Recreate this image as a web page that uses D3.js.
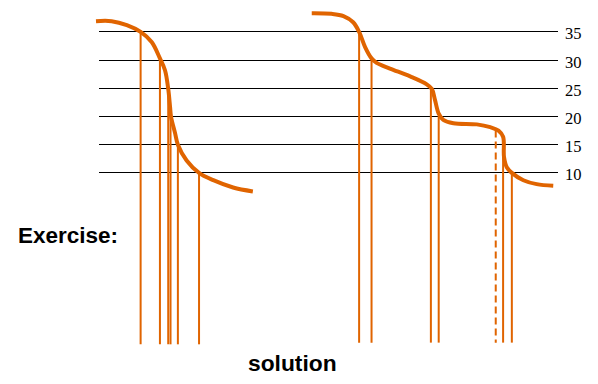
<!DOCTYPE html>
<html><head><meta charset="utf-8">
<script src="https://cdn.jsdelivr.net/npm/d3@7"></script>
<style>html,body{margin:0;padding:0;background:#fff;}svg{display:block;}</style>
</head><body>
<script>
// ---- data ----
const tickLevels = [35, 30, 25, 20, 15, 10];
const tickLabels = ["35", "30", "25", "20", "15", "10"];

const curve1X = [0, 3.4, 6.7, 9.7, 12.1, 13.9, 15.0, 15.7, 16.1, 16.3, 17.2, 17.8, 19.7, 22.4, 25.5, 29.8, 34.1];
const curve1Y = [36.8, 36.8, 36.1, 34.9, 33.1, 30.2, 28.1, 24.8, 21.6, 19.9, 16.9, 14.9, 12.1, 9.9, 8.6, 7.3, 6.6];

const curve2X = [46.9, 51.2, 53.8, 55.9, 57.2, 58.5, 59.9, 61.0, 63.9, 68.3, 71.9, 73.0, 73.7, 74.5, 75.5, 77.7, 82.8, 85.7, 87.5, 88.5, 88.7, 89.3, 90.4, 92.9, 95.8, 99.4];
const curve2Y = [38.2, 38.1, 37.7, 36.6, 34.9, 32.2, 30.2, 29.4, 28.4, 27.0, 25.6, 24.8, 22.8, 20.4, 19.3, 18.7, 18.5, 18.0, 17.4, 16.3, 12.7, 10.9, 9.9, 8.6, 7.9, 7.6];

const drop1X = [9.7, 13.9, 15.7, 16.2, 17.8, 22.4];
const drop1Top = [35, 30, 25, 20, 15, 10];
const drop1Bottom = -20.5;

const drop2X = [57.2, 59.9, 72.8, 74.5, 86.9, 88.5, 90.4];
const drop2Top = [35, 30, 25, 20, 17.4, 15, 10];
const drop2Dashed = [false, false, false, false, true, false, false];
const drop2Bottom = -20.2;

// ---- drawing ----
const W = 598, H = 384;
const orange = "#e06400";
const svg = d3.select("body").append("svg").attr("width", W).attr("height", H);

const x = d3.scaleLinear().domain([0, 100]).range([96, 556]);
const y = d3.scaleLinear().domain([10, 35]).range([172.3, 31.3]);

// gridlines
svg.append("g").selectAll("line").data(tickLevels).join("line")
  .attr("x1", 99).attr("x2", 558)
  .attr("y1", d => Math.round(y(d)) + 0.5).attr("y2", d => Math.round(y(d)) + 0.5)
  .attr("stroke", "#000").attr("stroke-width", 1.2);

// tick labels
svg.append("g").selectAll("text").data(tickLevels).join("text")
  .attr("x", 565).attr("y", d => y(d) + 8)
  .attr("font-family", "'Liberation Serif', 'DejaVu Serif', serif")
  .attr("font-size", 16.5).attr("fill", "#000")
  .text((d, i) => tickLabels[i]);

// drop lines
const drops1 = drop1X.map((v, i) => ({x: v, top: drop1Top[i], bottom: drop1Bottom, dashed: false}));
const drops2 = drop2X.map((v, i) => ({x: v, top: drop2Top[i], bottom: drop2Bottom, dashed: drop2Dashed[i]}));
svg.append("g").selectAll("line").data(drops1.concat(drops2)).join("line")
  .attr("x1", d => x(d.x)).attr("x2", d => x(d.x))
  .attr("y1", d => y(d.top)).attr("y2", d => y(d.bottom))
  .attr("stroke", orange).attr("stroke-width", 2)
  .attr("stroke-dasharray", d => d.dashed ? "7,4" : null);

// curves
const line = d3.line().x(d => x(d[0])).y(d => y(d[1])).curve(d3.curveCatmullRom.alpha(0.5));
const c1 = curve1X.map((v, i) => [v, curve1Y[i]]);
const c2 = curve2X.map((v, i) => [v, curve2Y[i]]);
svg.append("g").selectAll("path").data([c1, c2]).join("path")
  .attr("d", line).attr("fill", "none").attr("stroke", orange).attr("stroke-width", 4);

// texts
svg.append("text").attr("x", 18).attr("y", 243.3)
  .attr("font-family", "'Liberation Sans', Arial, sans-serif").attr("font-weight", "bold")
  .attr("font-size", 22.5).attr("fill", "#000").text("Exercise:");
svg.append("text").attr("x", 248).attr("y", 370.7)
  .attr("font-family", "'Liberation Sans', Arial, sans-serif").attr("font-weight", "bold")
  .attr("font-size", 22.8).attr("fill", "#000").text("solution");
</script>
</body></html>
